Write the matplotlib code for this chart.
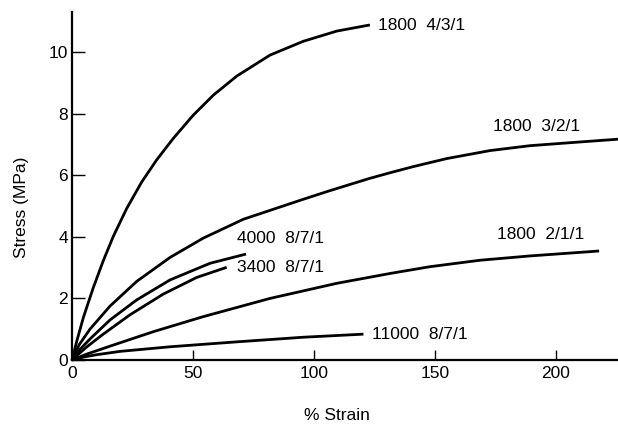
import matplotlib
matplotlib.use("Agg")
import matplotlib.pyplot as plt

plt.rcParams['font.family'] = ['Liberation Sans', 'DejaVu Sans']

# Stress-strain curves (strain in %, stress in MPa)
strain_1800_431 = [0, 2.0, 4.7, 8.8, 12.9, 17.1, 22.6, 28.8, 35.0, 41.9, 50.1,
                   58.4, 68.1, 81.8, 95.6, 109.4, 123.1]
stress_1800_431 = [0, 0.62, 1.38, 2.35, 3.22, 4.02, 4.92, 5.78, 6.50, 7.20, 7.95,
                   8.60, 9.22, 9.90, 10.35, 10.68, 10.88]

strain_1800_321 = [0, 3.0, 7.4, 15.7, 26.7, 40.5, 54.3, 70.8, 95.6, 106.6, 123.1,
                   131.4, 141.0, 154.8, 172.7, 189.3, 209.9, 225.6]
stress_1800_321 = [0, 0.50, 1.00, 1.75, 2.55, 3.33, 3.96, 4.57, 5.22, 5.50, 5.90,
                   6.08, 6.28, 6.54, 6.80, 6.96, 7.08, 7.17]

strain_1800_211 = [0, 6.0, 15.7, 33.6, 54.3, 81.8, 109.4, 131.4, 147.9, 168.6,
                   189.3, 217.8]
stress_1800_211 = [0, 0.19, 0.45, 0.92, 1.41, 2.00, 2.49, 2.81, 3.03, 3.24,
                   3.38, 3.54]

strain_4000_871 = [0, 3.5, 7.4, 15.7, 26.7, 40.5, 57.0, 71.9]
stress_4000_871 = [0, 0.36, 0.68, 1.30, 1.95, 2.60, 3.14, 3.44]

strain_3400_871 = [0, 6.0, 12.9, 24.0, 37.7, 51.5, 63.9]
stress_3400_871 = [0, 0.42, 0.84, 1.47, 2.14, 2.68, 3.01]

strain_11000_871 = [0, 5.0, 10.0, 19.8, 40.5, 68.1, 95.6, 120.4]
stress_11000_871 = [0, 0.10, 0.17, 0.28, 0.43, 0.59, 0.74, 0.84]

curve_labels = ["1800  4/3/1", "1800  3/2/1", "1800  2/1/1",
                "4000  8/7/1", "3400  8/7/1", "11000  8/7/1"]
# label anchor (left edge, vertical centre) in data units
label_x = [126.5, 174, 175.5, 68, 68, 124]
label_y = [10.85, 7.58, 4.06, 3.96, 2.99, 0.84]

x_ticks = [0, 50, 100, 150, 200]
y_ticks = [0, 2, 4, 6, 8, 10]

fig = plt.figure(figsize=(6.18, 4.24), dpi=100)
ax = fig.add_axes([0.1165, 0.1509, 0.8835, 0.8208])

series = [
    (strain_1800_431, stress_1800_431),
    (strain_1800_321, stress_1800_321),
    (strain_1800_211, stress_1800_211),
    (strain_4000_871, stress_4000_871),
    (strain_3400_871, stress_3400_871),
    (strain_11000_871, stress_11000_871),
]
for xs, ys in series:
    ax.plot(xs, ys, color='black', lw=2.0, solid_capstyle='butt',
            solid_joinstyle='round', clip_on=False)

fs = 12.5
for text, lx, ly in zip(curve_labels, label_x, label_y):
    ax.text(lx, ly, text, ha='left', va='center', fontsize=fs, color='black')

ax.set_xlim(0, 225.6)
ax.set_ylim(0, 11.3)
ax.set_xticks(x_ticks)
ax.set_yticks(y_ticks)
ax.set_xticklabels([str(v) for v in x_ticks], fontsize=fs)
ax.set_yticklabels([str(v) for v in y_ticks], fontsize=fs)

for side in ('top', 'right'):
    ax.spines[side].set_visible(False)
for side in ('left', 'bottom'):
    ax.spines[side].set_linewidth(1.6)
    ax.spines[side].set_color('black')

ax.tick_params(axis='y', direction='in', length=9, width=1.0, pad=3)
ax.tick_params(axis='x', direction='in', length=7, width=1.0, pad=4)

fig.text(22 / 618, 1 - 207 / 424, "Stress (MPa)", rotation=90,
         ha='center', va='center', fontsize=fs)
fig.text(337 / 618, 1 - 415 / 424, "% Strain", ha='center', va='center',
         fontsize=fs)

fig.savefig("out.png", dpi=100)
